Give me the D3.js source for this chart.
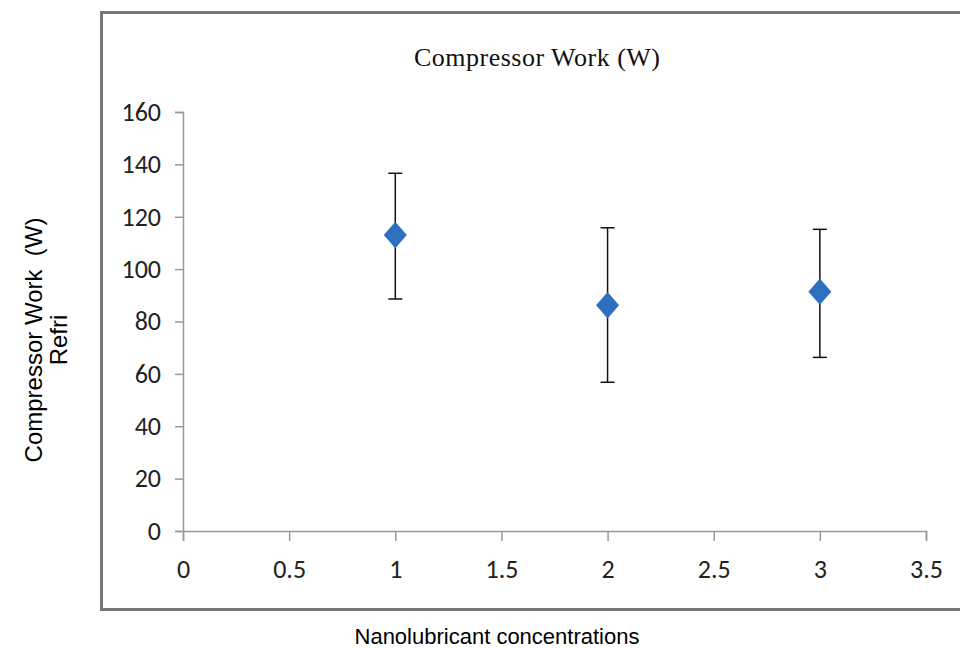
<!DOCTYPE html>
<html>
<head>
<meta charset="utf-8">
<script src="https://cdn.jsdelivr.net/npm/d3@7"></script>
<style>
  body { margin: 0; background: #fff; }
  .tick text { font-family: "Carlito", "Liberation Sans Narrow", Lato, sans-serif; font-size: 26px; fill: #222; }
</style>
</head>
<body>
<script>
// Data
const concentrations = [1, 2, 3];
const work = [113.0, 86.2, 91.4];
const workHigh = [136.6, 115.8, 115.2];
const workLow = [88.6, 56.8, 66.3];
const xTicks = [0, 0.5, 1, 1.5, 2, 2.5, 3, 3.5];
const yTicks = [0, 20, 40, 60, 80, 100, 120, 140, 160];

const w = 960, h = 648;
const plotLeft = 183, plotRight = 926, plotTop = 112, plotBottom = 531;

const svg = d3.select("body").append("svg")
  .attr("width", w)
  .attr("height", h);

// outer chart frame (runs off the right edge)
svg.append("rect")
  .attr("x", 101.5).attr("y", 12.5)
  .attr("width", 900).attr("height", 597)
  .attr("fill", "none")
  .attr("stroke", "#777")
  .attr("stroke-width", 3);

const x = d3.scaleLinear().domain([0, 3.5]).range([plotLeft, plotRight]);
const y = d3.scaleLinear().domain([0, 160]).range([plotBottom, plotTop]);

// x axis
const gx = svg.append("g")
  .attr("transform", `translate(0,${plotBottom})`)
  .call(d3.axisBottom(x).tickValues(xTicks).tickSize(10).tickPadding(19)
    .tickFormat(d3.format("")));
gx.select(".domain").attr("stroke", "#999").attr("stroke-width", 1.5);
gx.selectAll(".tick line").attr("stroke", "#999").attr("stroke-width", 1.5);

// y axis
const gy = svg.append("g")
  .attr("transform", `translate(${plotLeft},0)`)
  .call(d3.axisLeft(y).tickValues(yTicks).tickSize(8).tickPadding(14));
gy.select(".domain").attr("stroke", "#999").attr("stroke-width", 1.5);
gy.selectAll(".tick line").attr("stroke", "#999").attr("stroke-width", 1.5);

// title
svg.append("text")
  .attr("x", 537).attr("y", 66)
  .attr("text-anchor", "middle")
  .style("font-family", "'Liberation Serif', 'DejaVu Serif', serif")
  .style("font-size", "26px")
  .attr("textLength", 246)
  .attr("fill", "#111")
  .text("Compressor Work (W)");

// axis titles
svg.append("text")
  .attr("transform", "translate(42,340) rotate(-90)")
  .attr("text-anchor", "middle")
  .style("font-family", "'Liberation Sans', Arial, sans-serif")
  .style("font-size", "24px")
  .style("white-space", "pre")
  .text("Compressor Work  (W)");
svg.append("text")
  .attr("transform", "translate(67,340) rotate(-90)")
  .attr("text-anchor", "middle")
  .style("font-family", "'Liberation Sans', Arial, sans-serif")
  .style("font-size", "24px")
  .text("Refri");
svg.append("text")
  .attr("x", 497).attr("y", 644)
  .attr("text-anchor", "middle")
  .style("font-family", "'Liberation Sans', Arial, sans-serif")
  .style("font-size", "22px")
  .text("Nanolubricant concentrations");

// error bars
const rows = concentrations.map((c, i) => ({ c, v: work[i], hi: workHigh[i], lo: workLow[i] }));
const capW = 7;
const bars = svg.append("g").attr("stroke", "#111").attr("stroke-width", 1.5);
bars.selectAll(".stem").data(rows).enter().append("line")
  .attr("x1", d => x(d.c)).attr("x2", d => x(d.c))
  .attr("y1", d => y(d.hi)).attr("y2", d => y(d.lo));
bars.selectAll(".cap-hi").data(rows).enter().append("line")
  .attr("x1", d => x(d.c) - capW).attr("x2", d => x(d.c) + capW)
  .attr("y1", d => y(d.hi)).attr("y2", d => y(d.hi));
bars.selectAll(".cap-lo").data(rows).enter().append("line")
  .attr("x1", d => x(d.c) - capW).attr("x2", d => x(d.c) + capW)
  .attr("y1", d => y(d.lo)).attr("y2", d => y(d.lo));

// diamond markers (a bit taller than wide)
const diamond = {
  draw(ctx, size) {
    const r = Math.sqrt(size) / 2;
    ctx.moveTo(0, -r * 1.15);
    ctx.lineTo(r, 0);
    ctx.lineTo(0, r * 1.15);
    ctx.lineTo(-r, 0);
    ctx.closePath();
  }
};
svg.selectAll(".pt").data(rows).enter().append("path")
  .attr("transform", d => `translate(${x(d.c)},${y(d.v)})`)
  .attr("d", d3.symbol().type(diamond).size(23 * 23))
  .attr("fill", "#2f6fc0");
</script>
</body>
</html>
